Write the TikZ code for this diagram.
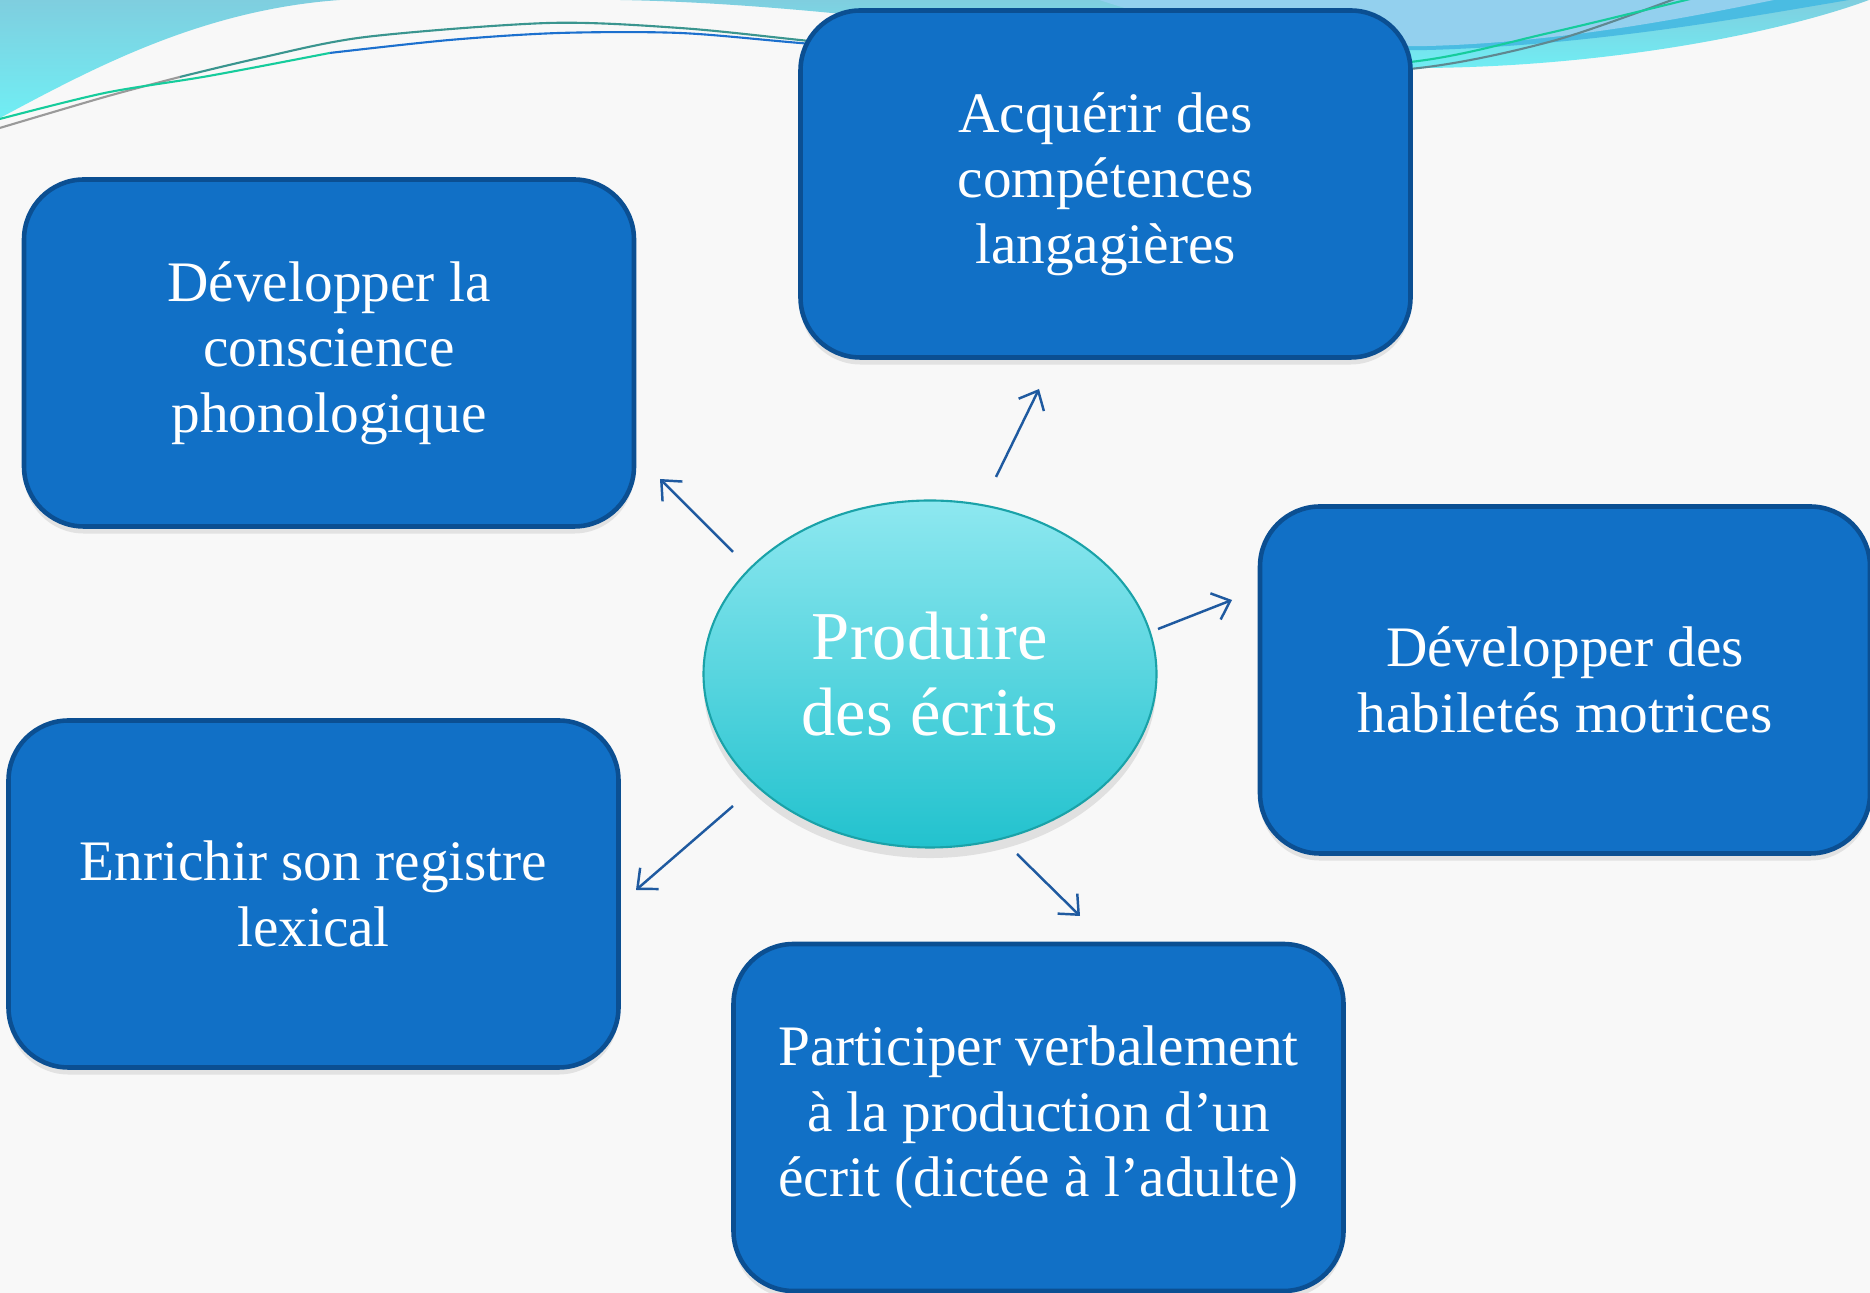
\documentclass[tikz,border=0pt]{standalone}
\usepackage{fontspec}
\setmainfont{Liberation Serif}
\usetikzlibrary{shapes.geometric,arrows.meta,shadows}

\definecolor{boxblue}{HTML}{1170C6}
\definecolor{boxedge}{HTML}{0B4F92}
\definecolor{arrowblue}{HTML}{1F5AA0}
\definecolor{cyanlight}{HTML}{8EE8F0}
\definecolor{cyandark}{HTML}{22C2CE}
\definecolor{cyanedge}{HTML}{1AA2A8}
\definecolor{swooshtop}{HTML}{7FCEDF}
\definecolor{swooshlow}{HTML}{70EEF4}
\definecolor{bandblue}{HTML}{4ABCE2}
\definecolor{paleblue}{HTML}{93D0EE}
\definecolor{linegreen}{HTML}{16CC9C}
\definecolor{lineblue}{HTML}{1C70CE}
\definecolor{linegray}{HTML}{5F8890}
\definecolor{lineteal}{HTML}{3A958F}
\definecolor{lightgrayline}{HTML}{9A9A9A}
\definecolor{bggray}{HTML}{F8F8F8}

\tikzset{
  goal/.style={draw=boxedge, line width=1.3pt, fill=boxblue, rounded corners=0.6cm,
    minimum width=6.1cm, minimum height=3.47cm, align=center, text=white,
    font=\fontsize{16.3}{18.6}\selectfont,
    drop shadow={opacity=0.18, shadow xshift=0pt, shadow yshift=-2pt}},
  hub/.style={ellipse, draw=cyanedge, line width=0.6pt, top color=cyanlight, bottom color=cyandark,
    minimum width=4.53cm, minimum height=3.47cm, inner sep=0pt, align=center, text=white,
    font=\fontsize{19.5}{21.5}\selectfont,
    drop shadow={opacity=0.2, shadow xshift=0pt, shadow yshift=-3pt}},
  link/.style={draw=arrowblue, line width=0.7pt, -{Straight Barb[length=4.5pt,width=8pt]}},
  wave/.style={line width=0.6pt}
}

\begin{document}
\begin{tikzpicture}
    \useasboundingbox (0,0) rectangle (18.70,12.93);
    \fill[bggray] (0,0) rectangle (18.70,12.93);

    % --- top decoration (pixel units, y down) ---
    \begin{scope}[shift={(0,12.93)}, x=0.01cm, y=-0.01cm]
        \shade[top color=swooshtop, bottom color=swooshlow] (0,0) -- (340,0) .. controls (200,10) and (90,70) .. (0,118) -- cycle;
        \shade[top color=swooshtop, bottom color=swooshlow] (620,0) .. controls (900,5) and (1200,70) .. (1430,68) .. controls (1620,66) and (1790,30) .. (1870,0) -- cycle;
        \fill[bandblue] (1150,0) .. controls (1250,40) and (1330,52) .. (1430,50) .. controls (1600,45) and (1760,15) .. (1850,0) -- cycle;
        \fill[paleblue] (1100,0) .. controls (1220,40) and (1330,48) .. (1430,46) .. controls (1570,42) and (1700,15) .. (1775,0) -- cycle;

        % upper line
        \draw[wave, lightgrayline] plot[smooth] coordinates {(0,128) (105,97) (180,77)};
        \draw[wave, lineteal] plot[smooth] coordinates {(180,77) (260,58) (366,37) (549,23) (680,28) (800,40) (1000,62)};
        \draw[wave, linegray] plot[smooth] coordinates {(1200,76) (1411,69) (1550,42) (1673,0) (1690,-8)};
        % lower line
        \draw[wave, linegreen] plot[smooth] coordinates {(0,119) (105,93) (209,76) (330,53)};
        \draw[wave, lineblue] plot[smooth] coordinates {(330,53) (450,40) (560,33) (680,33) (800,43) (1000,60)};
        \draw[wave, linegreen] plot[smooth] coordinates {(1200,70) (1411,62) (1550,33) (1687,0) (1710,-6)};
    \end{scope}

    % --- boxes ---
    \node[goal] (phono)  at (3.29,9.40)   {Développer la\\conscience\\phonologique};
    \node[goal] (lang)   at (11.055,11.09) {Acquérir des\\compétences\\langagières};
    \node[goal] (motor)  at (15.65,6.13)  {Développer des\\habiletés motrices};
    \node[goal] (lexic)  at (3.135,3.99)  {Enrichir son registre\\lexical};
    \node[goal] (dictee) at (10.385,1.755) {Participer verbalement\\à la production d’un\\écrit (dictée à l’adulte)};

    \node[hub] (prod) at (9.30,6.19) {Produire\\des écrits};

    % --- arrows ---
    \coordinate (langS) at (9.96,8.16);   \coordinate (langE) at (10.39,9.04);
    \coordinate (phonoS) at (7.33,7.41);  \coordinate (phonoE) at (6.60,8.14);
    \coordinate (motorS) at (11.58,6.64); \coordinate (motorE) at (12.32,6.93);
    \coordinate (lexicS) at (7.33,4.87);  \coordinate (lexicE) at (6.36,4.03);
    \coordinate (dicteeS) at (10.17,4.39); \coordinate (dicteeE) at (10.80,3.77);

    \foreach \p in {lang,phono,motor,lexic,dictee} \draw[link] (\p S) -- (\p E);
\end{tikzpicture}
\end{document}
